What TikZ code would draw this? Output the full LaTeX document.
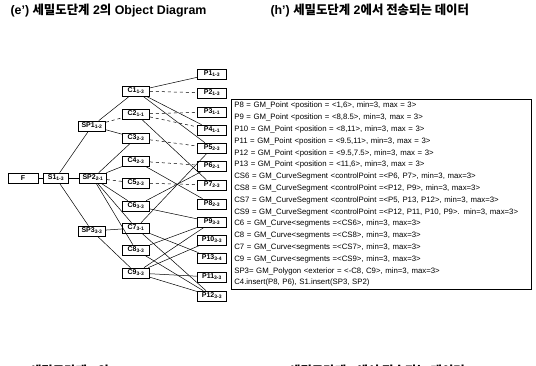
\documentclass[tikz,border=0pt]{standalone}
\usepackage{fontspec}
\setmainfont{Liberation Sans}
\newfontfamily\kr{Noto Sans CJK KR}
\newcommand\lvl[1]{\textsubscript{#1}}
\begin{document}
\begin{tikzpicture}[x=1pt,y=-1pt,
  box/.style={draw,line width=0.7pt,minimum width=27pt,minimum height=10pt,inner sep=0pt,font=\fontsize{7}{7}\selectfont\bfseries},
  ttl/.style={anchor=west,font=\fontsize{12.4}{12.4}\selectfont\bfseries},
  ln/.style={line width=0.5pt},
  dl/.style={line width=0.5pt,dash pattern=on 3pt off 3pt}]
\useasboundingbox (0,0) rectangle (536,365);
% titles
\node[ttl] (t1) at (7,11) {(e') {\kr 세밀도단계} 2{\kr 의} Object Diagram};
\node[ttl] (t2) at (267,11) {(h') {\kr 세밀도단계} 2{\kr 에서 전송되는 데이터}};
\begin{scope}
\clip (0,0) rectangle (536,365);
\node[ttl] (t3) at (7,372) {(f') {\kr 세밀도단계} 3{\kr 의} Object Diagram};
\node[ttl] (t4) at (267,372) {(i') {\kr 세밀도단계} 3{\kr 에서 전송되는 데이터}};
\end{scope}
% nodes
\node[box,minimum width=30pt] (F) at (23,178) {F};
\node[box,minimum width=25pt] (S1) at (56,178) {S1\lvl{1-3}};
\node[box,minimum width=27pt] (SP1) at (92,126) {SP1\lvl{1-2}};
\node[box,minimum width=27pt] (SP2) at (93,178) {SP2\lvl{2-1}};
\node[box,minimum width=27pt] (SP3) at (92,231) {SP3\lvl{3-3}};
\foreach \n/\y/\s in {C1/91/1-3,C2/114/1-1,C3/138/2-3,C4/161/2-3,C5/183/2-3,C6/206/3-3,C7/228/3-1,C8/250/3-3,C9/273/3-3}
  \node[box] (\n) at (136,\y) {\n\lvl{\s}};
\foreach \n/\y/\s in {P1/74/1-3,P2/93/1-3,P3/112/1-1,P4/130/1-1,P5/148/2-3,P6/166/2-1,P7/185/2-3,P8/204/2-3,P9/222/3-3,P10/240/3-3,P13/258/3-4,P11/277/3-3,P12/296/3-3}
  \node[box,minimum width=29pt] (\n) at (212,\y) {\n\lvl{\s}};
% edges
\draw[ln] (F) -- (S1);
\draw[ln] (S1) -- (SP2);
\draw[ln] (S1) -- (SP1);
\draw[ln] (S1) -- (SP3);
\draw[ln] (SP1) -- (C1);
\draw[dl] (SP1) -- (C2);
\draw[ln] (SP1) -- (C3);
\draw[ln] (SP2) -- (C3);
\draw[ln] (SP2) -- (C4);
\draw[dl] (SP2) -- (C5);
\draw[ln] (SP2) -- (C6);
\draw[ln] (SP2) -- (C7);
\draw[ln] (SP2) -- (C8);
\draw[ln] (SP3) -- (C7);
\draw[ln] (SP3) -- (C9);
\draw[ln] (C1) -- (P1);
\draw[dl] (C1) -- (P2);
\draw[ln] (C1) -- (P4);
\draw[ln] (C1) -- (P5);
\draw[dl] (C2) -- (P3);
\draw[dl] (C2) -- (P4);
\draw[dl] (C3) -- (P5);
\draw[ln] (C2) -- (P7);
\draw[dl] (C4) -- (P6);
\draw[ln] (C4) -- (P8);
\draw[dl] (C5) -- (P7);
\draw[ln] (C6) -- (P6);
\draw[ln] (C6) -- (P9);
\draw[ln] (C7) -- (P5);
\draw[ln] (C7) -- (P13);
\draw[ln] (C7) -- (P12);
\draw[ln] (C8) -- (P9);
\draw[ln] (C8) -- (P12);
\draw[ln] (C9) -- (P9);
\draw[ln] (C9) -- (P10);
\draw[ln] (C9) -- (P11);
\draw[ln] (C9) -- (P12);
% data box
\node[draw,line width=0.6pt,anchor=north west,align=left,inner sep=3pt,text width=294pt,
  font=\fontsize{7.8}{11.8}\selectfont] (data) at (231,99) {%
P8 = GM\_Point <position = <1,6>, min=3, max = 3>\\
P9 = GM\_Point <position = <8,8.5>, min=3, max = 3>\\
P10 = GM\_Point <position = <8,11>, min=3, max = 3>\\
P11 = GM\_Point <position = <9.5,11>, min=3, max = 3>\\
P12 = GM\_Point <position = <9.5,7.5>, min=3, max = 3>\\
P13 = GM\_Point <position = <11,6>, min=3, max = 3>\\
CS6 = GM\_CurveSegment <controlPoint =<P6, P7>, min=3, max=3>\\
CS8 = GM\_CurveSegment <controlPoint =<P12, P9>, min=3, max=3>\\
CS7 = GM\_CurveSegment <controlPoint =<P5, P13, P12>, min=3, max=3>\\
CS9 = GM\_CurveSegment <controlPoint =<P12, P11, P10, P9>. min=3, max=3>\\
C6 = GM\_Curve<segments =<CS6>, min=3, max=3>\\
C8 = GM\_Curve<segments =<CS8>, min=3, max=3>\\
C7 = GM\_Curve<segments =<CS7>, min=3, max=3>\\
C9 = GM\_Curve<segments =<CS9>, min=3, max=3>\\
SP3= GM\_Polygon <exterior = <-C8, C9>, min=3, max=3>\\
C4.insert(P8, P6), S1.insert(SP3, SP2)};
\draw[line width=1.2pt] (data.north east) -- (data.south east) -- (data.south west);
\end{tikzpicture}
\end{document}
